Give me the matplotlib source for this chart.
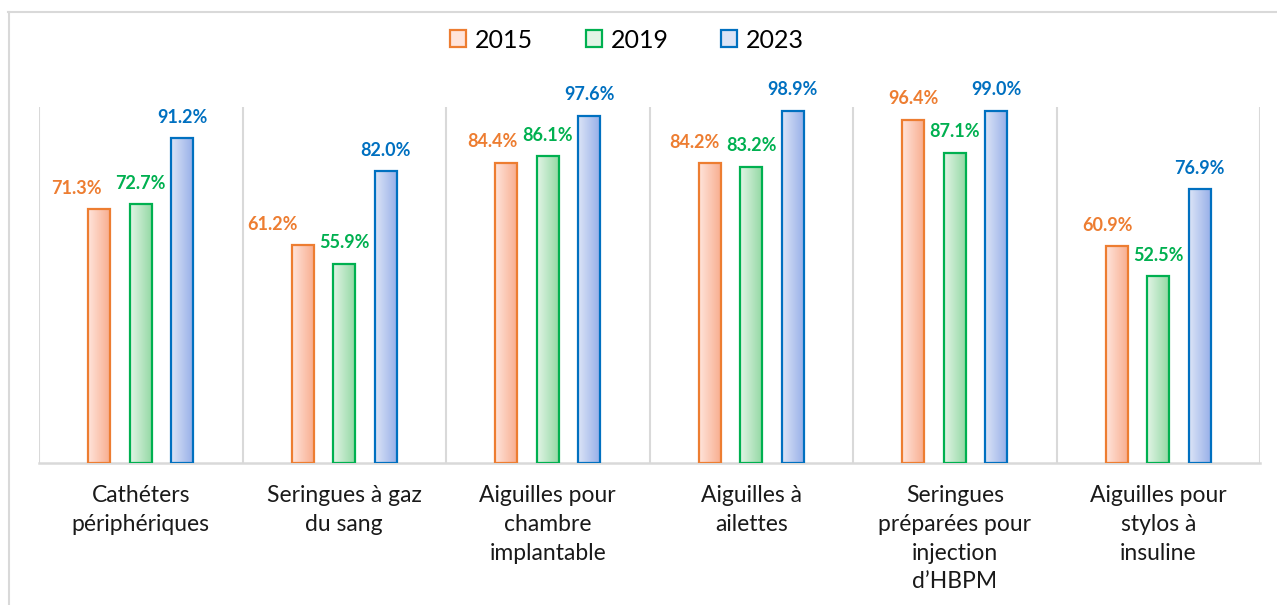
import numpy as np
import matplotlib.pyplot as plt
from matplotlib.colors import LinearSegmentedColormap
from matplotlib.patches import Patch
from matplotlib.lines import Line2D

plt.rcParams['font.family'] = ['Lato', 'DejaVu Sans']

# data
categories = ['Cathéters\npériphériques', 'Seringues à gaz\ndu sang',
              'Aiguilles pour\nchambre\nimplantable', 'Aiguilles à\nailettes',
              'Seringues\npréparées pour\ninjection\nd’HBPM',
              'Aiguilles pour\nstylos à\ninsuline']
years = ['2015', '2019', '2023']
v2015 = [71.3, 61.2, 84.4, 84.2, 96.4, 60.9]
v2019 = [72.7, 55.9, 86.1, 83.2, 87.1, 52.5]
v2023 = [91.2, 82.0, 97.6, 98.9, 99.0, 76.9]
series = [v2015, v2019, v2023]

# styles
edge_cols = ['#ED7D31', '#00B050', '#0070C0']
grad_cols = [('#FFE4DB', '#F8AE90'), ('#E2F4E6', '#94D9A4'), ('#DCE4F6', '#98B0E9')]
offsets = [-0.204, 0.0, 0.204]
bar_w = 0.108
# manual shift of the orange labels (pixels), as in the original
dx_2015 = [-23, -30, -14, -15, 0, -9]

fig = plt.figure(figsize=(12.77, 6.05), dpi=100)
ax = fig.add_axes([39/1277, 1-463/605, (1260-39)/1277, (463-107)/605])

x = np.arange(len(categories))
grad = np.linspace(0, 1, 64).reshape(1, -1)

for i, vals in enumerate(series):
    cmap = LinearSegmentedColormap.from_list('g%d' % i, grad_cols[i])
    bars = ax.bar(x + offsets[i], vals, bar_w, facecolor='none',
                  edgecolor=edge_cols[i], linewidth=1.6, zorder=3)
    for j, b in enumerate(bars):
        x0 = b.get_x()
        im = ax.imshow(grad, cmap=cmap, aspect='auto', zorder=2,
                       extent=[x0, x0 + bar_w, 0, vals[j]])
        im.set_clip_path(b)
        dx = dx_2015[j] if i == 0 else 0
        ax.annotate('%.1f%%' % vals[j], (x[j] + offsets[i], vals[j]),
                    xytext=(dx * 0.72, 9), textcoords='offset points',
                    ha='center', va='bottom', fontsize=13, fontweight='bold',
                    color=edge_cols[i])

ax.set_xlim(-0.5, len(categories) - 0.5)
ax.set_ylim(0, 100)

# vertical separators between categories
for b in np.arange(-0.5, len(categories), 1.0):
    ax.axvline(b, color='#D9D9D9', linewidth=1.5, zorder=1)

for s in ['top', 'right', 'left']:
    ax.spines[s].set_visible(False)
ax.spines['bottom'].set_color('#D9D9D9')
ax.spines['bottom'].set_linewidth(1.8)
ax.set_yticks([])
ax.set_xticks(x)
ax.set_xticklabels(categories, fontsize=16.5, linespacing=1.45, color='#1A1A1A')
ax.tick_params(axis='x', length=0, pad=16)

handles = [Patch(facecolor=grad_cols[i][0], edgecolor=edge_cols[i], linewidth=1.6)
           for i in range(3)]
fig.legend(handles, years, loc='center', bbox_to_anchor=(627/1277, 1-40/605),
           ncol=3, frameon=False, fontsize=18, handlelength=0.65, handleheight=0.65,
           handletextpad=0.35, columnspacing=2.1)

# outer chart frame
fig.add_artist(Line2D([8/1277, 1], [1-12/605, 1-12/605], color='#D9D9D9', linewidth=1.5))
fig.add_artist(Line2D([9/1277, 9/1277], [0, 1-12/605], color='#D9D9D9', linewidth=1.5))

fig.savefig('out.png', dpi=100)
